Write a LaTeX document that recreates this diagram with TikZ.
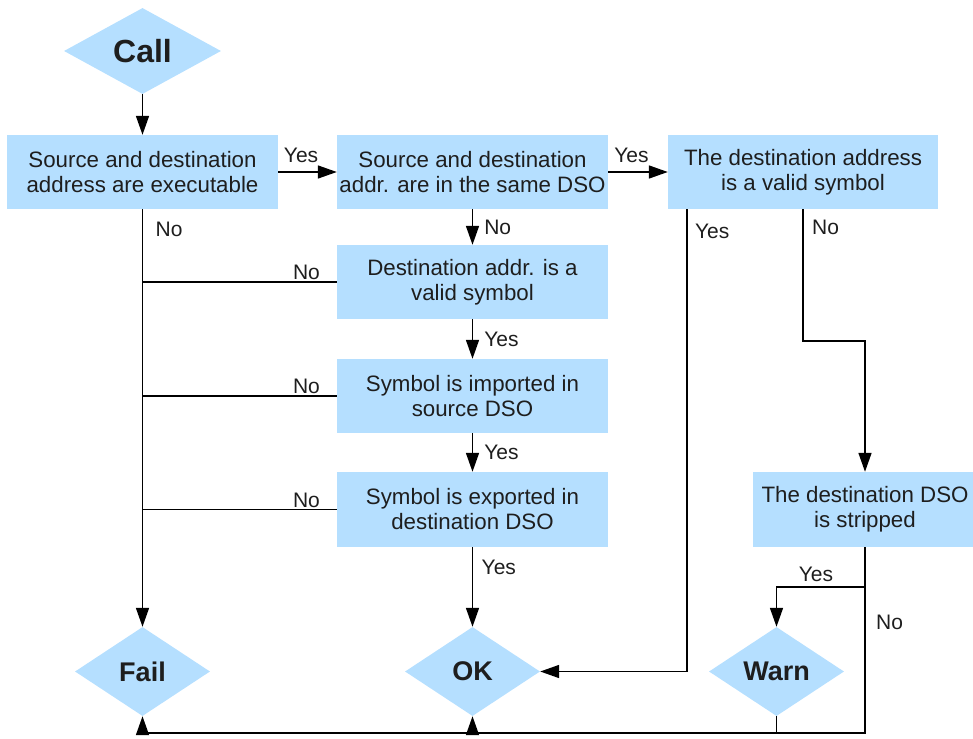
\documentclass[tikz,border=0pt]{standalone}
\usepackage{fontspec}
\setmainfont{Liberation Sans}
\usetikzlibrary{arrows.meta,shapes.geometric}
\definecolor{boxfill}{RGB}{181,223,255}
\definecolor{ink}{RGB}{30,30,30}
\begin{document}
\begin{tikzpicture}[x=1pt,y=-1pt,
  stepbox/.style={rectangle, fill=boxfill, inner sep=0pt, minimum width=271pt,
    minimum height=74pt, align=center, text=ink, font=\fontsize{22.3}{25}\selectfont},
  term/.style={diamond, fill=boxfill, inner sep=0pt, minimum width=135pt,
    minimum height=89pt, aspect=1.52, text=ink, font=\fontsize{27}{30}\selectfont\bfseries},
  lbl/.style={text=ink, font=\fontsize{21}{24}\selectfont, inner sep=1pt},
  line/.style={line width=1.6pt, draw=black},
  arr/.style={line, -{Triangle[length=19pt,width=13pt]}},
]
\useasboundingbox (0,0) rectangle (973,738);

% terminals
\node[term, minimum width=157pt, minimum height=86pt, aspect=1.83,
      font=\fontsize{32}{35}\selectfont\bfseries] (call) at (142.5,51) {Call};
\node[term] (fail) at (142.5,671.5) {Fail};
\node[term] (ok)   at (472.5,671.5) {OK};
\node[term] (warn) at (776.5,671.5) {Warn};

% decision boxes
\node[stepbox] (b1) at (142.5,172) {Source and destination\\address are executable};
\node[stepbox] (b2) at (472.5,172) {Source and destination\\addr. are in the same DSO};
\node[stepbox, minimum width=270pt] (b3) at (803,172) {The destination address\\is a valid symbol};
\node[stepbox] (b4) at (472.5,282) {Destination addr. is a\\valid symbol};
\node[stepbox] (b5) at (472.5,396) {Symbol is imported in\\source DSO};
\node[stepbox, minimum height=75pt] (b6) at (472.5,509.5) {Symbol is exported in\\destination DSO};
\node[stepbox, minimum width=224pt, minimum height=75pt] (strip) at (865,509.5) {The destination DSO\\is stripped};

% entry
\draw[arr] (call.south) -- (call.south |- b1.north);

% top row
\draw[arr] (b1) -- node[lbl, above=7pt, pos=0.39] {Yes} (b2);
\draw[arr] (b2) -- node[lbl, above=7pt, pos=0.39] {Yes} (b3);

% failure column
\draw[arr] (b1.south) -- (fail.north);
\node[lbl, anchor=north west] at ([xshift=12pt, yshift=-12pt]b1.south) {No};
\draw[line] (b4.west) -- node[lbl, above, pos=0.156] {No} (b4.west -| b1.south);
\draw[line] (b5.west) -- node[lbl, above, pos=0.156] {No} (b5.west -| b1.south);
\draw[line] (b6.west) -- node[lbl, above, pos=0.156] {No} (b6.west -| b1.south);

% middle column
\draw[arr] (b2) -- node[lbl, right=10pt] {No} (b4);
\draw[arr] (b4) -- node[lbl, right=10pt] {Yes} (b5);
\draw[arr] (b5) -- node[lbl, right=10pt] {Yes} (b6);
\draw[arr] (b6) -- (ok);
\node[lbl, anchor=west] at ([xshift=8pt, yshift=-20pt]b6.south) {Yes};

% right column
\coordinate (y3) at ([xshift=19pt]b3.south west);
\draw[arr] (y3) |- (ok.east);
\node[lbl, anchor=north west] at ([xshift=7pt, yshift=-14pt]y3) {Yes};
\draw[arr] (b3.south) -- ++(0,132) -| (strip.north);
\node[lbl, anchor=north west] at ([xshift=8pt, yshift=-10pt]b3.south) {No};

% stripped DSO branches
\path (strip.south) ++(0,40) coordinate (split);
\path (strip.south) ++(0,186) coordinate (br);
\draw[line] (strip.south) -- (br) -- (fail.south |- br);
\draw[arr] (split) -| (warn.north);
\node[lbl, anchor=south] at ([xshift=-49pt, yshift=4pt]split) {Yes};
\node[lbl, anchor=west] at ([xshift=10pt, yshift=-35pt]split) {No};
\draw[line] (warn.south) -- (warn.south |- br);
\draw[arr] (fail.south |- br) -- (fail.south);
\draw[arr] (ok.south |- br) -- (ok.south);
\end{tikzpicture}
\end{document}
